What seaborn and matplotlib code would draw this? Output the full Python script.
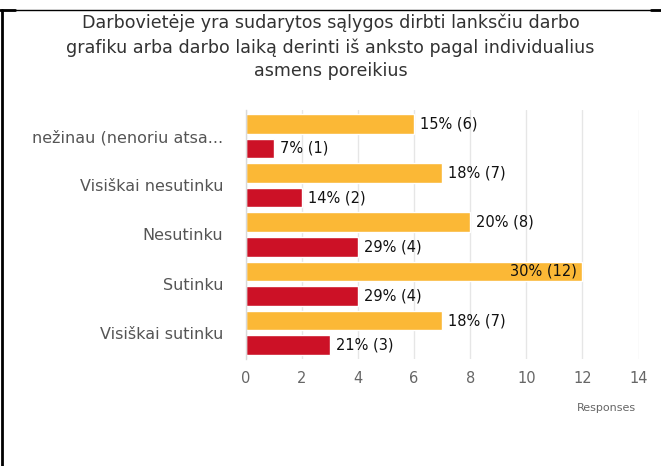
import matplotlib
matplotlib.use("Agg")
import matplotlib.pyplot as plt
from matplotlib.lines import Line2D
import seaborn as sns
import pandas as pd

# Survey answers and the two respondent groups
categories = [
    "nežinau (nenoriu atsa...",
    "Visiškai nesutinku",
    "Nesutinku",
    "Sutinku",
    "Visiškai sutinku",
]
groups = ["Grupė 1", "Grupė 2"]
counts_group1 = [6, 7, 8, 12, 7]
percent_group1 = [15, 18, 20, 30, 18]
counts_group2 = [1, 2, 4, 4, 3]
percent_group2 = [7, 14, 29, 29, 21]
x_ticks = [0, 2, 4, 6, 8, 10, 12, 14]

title = ("Darbovietėje yra sudarytos sąlygos dirbti lanksčiu darbo\n"
         "grafiku arba darbo laiką derinti iš anksto pagal individualius\n"
         "asmens poreikius")

df = pd.DataFrame({
    "answer": categories * 2,
    "group": [groups[0]] * len(categories) + [groups[1]] * len(categories),
    "count": counts_group1 + counts_group2,
    "percent": percent_group1 + percent_group2,
})

sns.set_theme(style="white")
plt.rcParams["font.family"] = ["DejaVu Sans"]

fig = plt.figure(figsize=(6.61, 4.66), dpi=100)
ax = fig.add_axes([0.3716, 0.2296, 0.5945, 0.5344])

palette = {groups[0]: "#FBB836", groups[1]: "#CC1126"}
sns.barplot(data=df, y="answer", x="count", hue="group", order=categories,
            hue_order=groups, palette=palette, orient="h", width=1.0,
            gap=0.2, saturation=1, legend=False, ax=ax)

ax.set_xlim(0, 14)
ax.set_ylim(len(categories) - 0.47, -0.53)
ax.set_xticks(x_ticks)
ax.set_xticklabels([str(t) for t in x_ticks])
ax.set_xlabel("")
ax.set_ylabel("")

ax.grid(axis="x", color="#E6E6E6", linewidth=1)
ax.set_axisbelow(True)
for side in ["top", "right", "bottom"]:
    ax.spines[side].set_visible(False)
ax.spines["left"].set_color("#D9D9D9")
ax.spines["left"].set_linewidth(1)

ax.tick_params(axis="y", length=0, pad=16, labelsize=11.5, labelcolor="#555555")
ax.tick_params(axis="x", length=0, pad=8.5, labelsize=10.5, labelcolor="#666666")

# Value labels: "percent% (count)" after each bar, inside when near the edge
label_sets = [
    (counts_group1, percent_group1),
    (counts_group2, percent_group2),
]
for container, (cnts, pcts) in zip(ax.containers, label_sets):
    for bar, c, p in zip(container, cnts, pcts):
        w = bar.get_width()
        yc = bar.get_y() + bar.get_height() / 2
        text = f"{p}% ({c})"
        if w > 11:
            ax.annotate(text, (w, yc), xytext=(-4, 0), textcoords="offset points",
                        ha="right", va="center", fontsize=10.5, color="#111111")
        else:
            ax.annotate(text, (w, yc), xytext=(4.5, 0), textcoords="offset points",
                        ha="left", va="center", fontsize=10.5, color="#111111")

fig.text(0.962, 1 - 408 / 466, "Responses", ha="right", va="center",
         fontsize=8, color="#666666")

fig.text(0.5, 1 - 47 / 466, title, ha="center", va="center", fontsize=12.6,
         color="#333333", linespacing=1.4)

# Page frame
fig.add_artist(Line2D([0, 1], [1 - 9.5 / 466] * 2, color="black", linewidth=1,
                      transform=fig.transFigure))
fig.add_artist(Line2D([0, 15 / 661], [1 - 10 / 466] * 2, color="black",
                      linewidth=2, transform=fig.transFigure))
fig.add_artist(Line2D([651 / 661, 1], [1 - 10 / 466] * 2, color="black",
                      linewidth=2, transform=fig.transFigure))
fig.add_artist(Line2D([2 / 661] * 2, [0, 1 - 10 / 466], color="black",
                      linewidth=2, transform=fig.transFigure))

fig.savefig("out.png", dpi=100)
